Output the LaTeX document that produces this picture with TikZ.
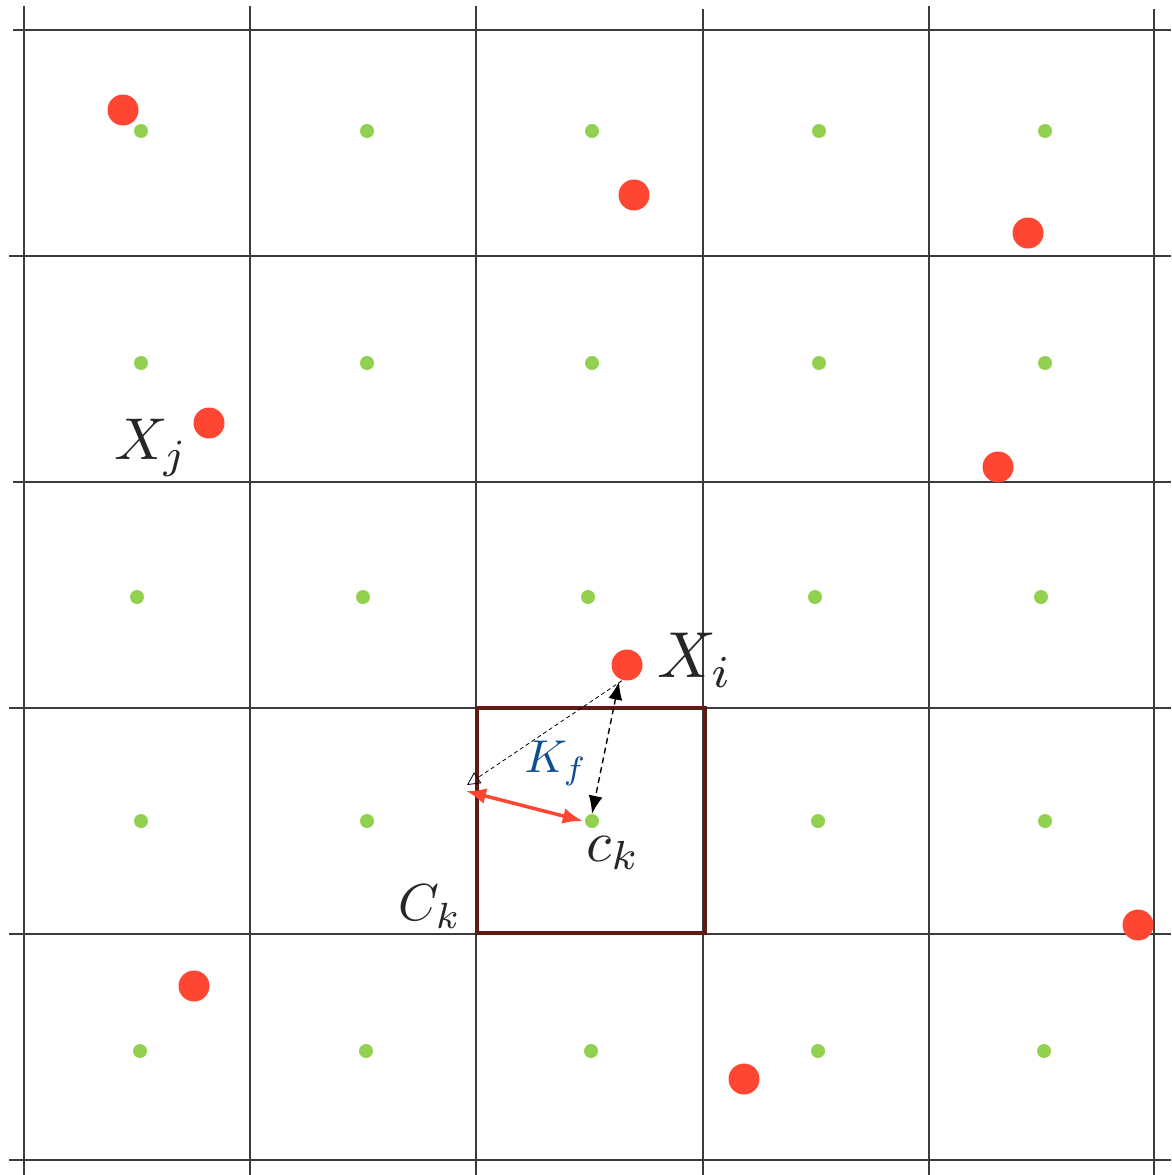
\documentclass[tikz,border=0pt]{standalone}
\usepackage{tikz}
\usetikzlibrary{arrows.meta,positioning}
\definecolor{gridgrey}{HTML}{3C3C3C}
\definecolor{pointred}{HTML}{FF4632}
\definecolor{centregreen}{HTML}{92D050}
\definecolor{cellbrown}{HTML}{5E1A14}
\definecolor{kblue}{HTML}{0E4D92}

\begin{document}
\begin{tikzpicture}[x=1pt,y=-1pt,
  gridline/.style={draw=gridgrey,line width=1.3pt},
  sample/.style={circle,fill=pointred,inner sep=0pt,minimum size=31pt},
  centre/.style={circle,fill=centregreen,inner sep=0pt,minimum size=14pt},
  lbl/.style={inner sep=0pt,text=black!85}]
\useasboundingbox (0,0) rectangle (1171,1175);

% grid of cells
\foreach \x/\ytop in {24/6,250/6,476/6,703/9,929/6,1154/9}
  \draw[gridline] (\x,\ytop) -- (\x,1175);
\foreach \y/\xl in {30/13,256/9,482/13,708/9,934/9,1160/9}
  \draw[gridline] (\xl,\y) -- (1171,\y);

% cell centres
\foreach \x/\y [count=\n] in {141/131,367/131,592/131,819/131,1045/131,
    141/363,367/363,592/363,819/363,1045/363,
    137/597,363/597,588/597,815/597,1041/597,
    141/821,367/821,818/821,1045/821,
    140/1051,366/1051,591/1051,818/1051,1044/1051}
  \node[centre] (c\n) at (\x,\y) {};
\node[centre] (ck) at (592,821) {};

% the highlighted cell
\draw[cellbrown,line width=4pt] (477,708) rectangle (705,933);

% sample points
\node[sample] (xi) at (627,665) {};
\node[sample] (xj) at (209,423) {};
\foreach \x/\y [count=\n] in {123/110,634/195,1028/233,998/467,194/986,744/1079,1138/925}
  \node[sample] (s\n) at (\x,\y) {};

% distances
\coordinate (kcorner) at (467,785);
\coordinate (kedge) at (466,791);
\draw[dashed,line width=0.8pt,dash pattern=on 4pt off 3pt,
  -{Triangle[open,length=13pt,width=13pt]}] ([xshift=-5pt]xi.south) -- (kcorner);
\draw[dashed,line width=1.4pt,dash pattern=on 6pt off 4pt,
  {Latex[length=18pt,width=14pt]}-{Latex[length=18pt,width=14pt]}]
  ([xshift=-8pt,yshift=-1pt]xi.south) -- (ck.north);
\draw[pointred,line width=3.5pt,
  {Latex[length=20pt,width=16pt]}-{Latex[length=20pt,width=16pt]}] (kedge) -- ([xshift=-2pt]ck.west);

% labels
\node[lbl,scale=6.5] (xilbl) at (695,660) {$X_i$};
\node[lbl,scale=5.9] (xjlbl) at (151,448) {$X_j$};
\node[lbl,scale=4.6,text=kblue] (kf) at (556,763) {$K_f$};
\node[lbl,scale=5.8] (cklbl) at (613,853) {$c_k$};
\node[lbl,scale=5.2] (Cklbl) at (430,907) {$C_k$};
\end{tikzpicture}
\end{document}
